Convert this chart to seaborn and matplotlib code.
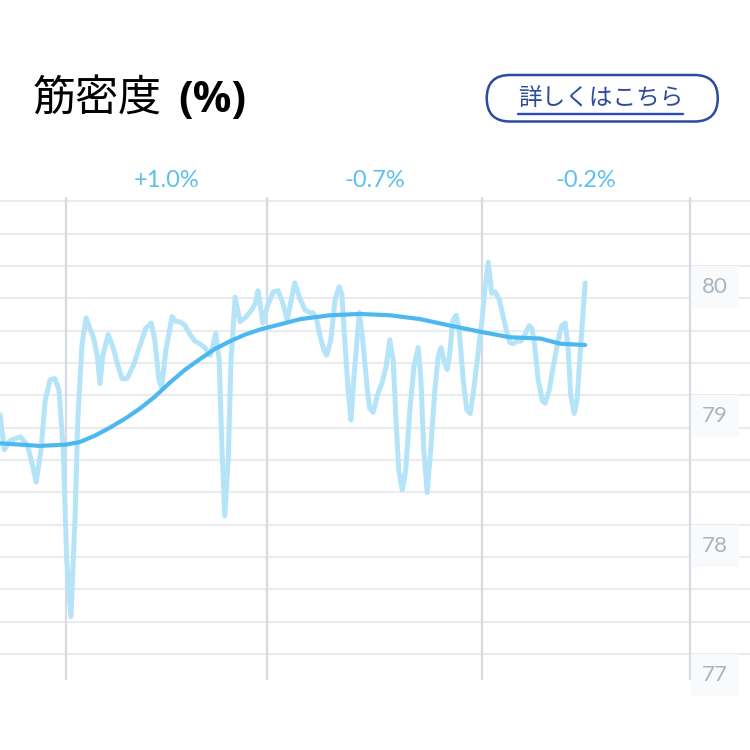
import matplotlib
matplotlib.use("Agg")
import matplotlib.pyplot as plt
from matplotlib.patches import FancyBboxPatch
from matplotlib.lines import Line2D
import matplotlib.transforms as mtransforms
import numpy as np
import pandas as pd
import seaborn as sns

# days counted from the first month boundary
daily_days = [-9.5, -8.9, -8.1, -6.6, -5.6, -5.0, -4.3, -3.6, -3.0, -2.3, -1.6, -1.0, -0.4,
              0.1, 0.7, 1.3, 1.7, 2.3, 2.9, 3.5, 4.0, 4.5, 4.9, 5.3, 6.1, 6.8, 7.5, 8.1, 8.8,
              9.7, 10.7, 11.5, 12.3, 12.8, 13.4, 13.8, 14.4, 15.3, 15.9, 16.4, 17.2, 17.9,
              18.6, 19.3, 20.0, 20.8, 21.2, 21.6, 22.1, 22.5, 22.9, 23.4, 23.8, 24.4, 25.1,
              25.8, 26.5, 27.3, 27.7, 28.4, 29.1, 29.9, 30.6, 31.3, 31.9, 32.5, 33.0, 33.8,
              34.5, 35.2, 35.6, 36.1, 36.6, 37.2, 37.6, 38.2, 38.8, 39.4, 39.8, 40.2, 40.7,
              41.1, 41.5, 42.3, 42.8, 43.4, 43.8, 44.3, 44.9, 45.6, 46.2, 46.7, 47.2, 47.6,
              48.0, 48.5, 49.0, 49.6, 50.2, 50.8, 51.2, 51.6, 52.1, 52.6, 53.2, 53.7, 54.1,
              54.5, 55.0, 55.4, 55.8, 56.3, 56.7, 57.3, 57.8, 58.3, 58.8, 59.4, 60.0, 60.4,
              60.9, 61.2, 61.4, 61.9, 62.5, 63.0, 63.6, 64.0, 64.5, 65.1, 65.6, 66.2, 66.8,
              67.2, 67.6, 68.1, 68.7, 69.1, 69.7, 70.2, 71.0, 71.5, 72.0, 72.4, 72.8, 73.3,
              73.7, 74.1, 74.6, 74.9]
daily_vals = [78.85, 78.58, 78.65, 78.68, 78.62, 78.50, 78.33, 78.58, 78.96, 79.12, 79.13, 79.04, 78.58,
              77.73, 77.29, 78.04, 78.81, 79.39, 79.60, 79.51, 79.44, 79.31, 79.09, 79.31, 79.47, 79.37, 79.23, 79.13, 79.13,
              79.23, 79.39, 79.52, 79.56, 79.43, 79.12, 79.06, 79.35, 79.61, 79.57, 79.57, 79.54, 79.47,
              79.42, 79.40, 79.37, 79.31, 79.39, 79.48, 79.27, 78.58, 78.07, 78.50, 79.27, 79.76, 79.57,
              79.60, 79.64, 79.71, 79.81, 79.56, 79.70, 79.80, 79.81, 79.71, 79.58, 79.74, 79.87, 79.74,
              79.66, 79.64, 79.64, 79.60, 79.47, 79.35, 79.31, 79.43, 79.74, 79.84, 79.78, 79.43, 79.04,
              78.81, 79.12, 79.64, 79.43, 79.08, 78.90, 78.87, 79.00, 79.10, 79.23, 79.43, 79.27, 78.81,
              78.42, 78.27, 78.42, 78.89, 79.23, 79.37, 79.12, 78.58, 78.25, 78.58, 79.04, 79.31, 79.37,
              79.27, 79.20, 79.35, 79.58, 79.62, 79.51, 79.12, 78.89, 78.86, 79.04, 79.31, 79.58, 79.81,
              80.03, 79.89, 79.79, 79.80, 79.74, 79.62, 79.49, 79.41, 79.40, 79.42, 79.42, 79.47, 79.54,
              79.52, 79.39, 79.12, 78.96, 78.94, 79.04, 79.20, 79.43, 79.54, 79.56, 79.39, 79.00, 78.86,
              78.96, 79.27, 79.66, 79.87]

trend_days = [-9.5, -6.6, -3.8, 0.0, 2.0, 4.2, 6.3, 8.5, 10.7, 12.8, 15.0, 17.2, 19.3, 21.5,
              23.7, 25.8, 28.0, 30.9, 33.8, 38.1, 42.4, 46.7, 51.1, 55.4, 60.0, 64.0, 68.4,
              71.3, 74.9]
trend_vals = [78.63, 78.62, 78.61, 78.62, 78.64, 78.69, 78.75, 78.82, 78.90, 78.99, 79.10, 79.20,
              79.28, 79.36, 79.42, 79.47, 79.51, 79.55, 79.59, 79.62, 79.63, 79.62, 79.59, 79.54,
              79.49, 79.45, 79.44, 79.40, 79.39]

month_starts = [0, 29, 60, 90]
month_changes = ["+1.0%", "-0.7%", "-0.2%"]
y_labels = [80, 79, 78, 77]

title_jp = "筋密度"
title_unit = "(%)"
link_text = "詳しくはこちら"

light_blue = "#b5e4f9"
mid_blue = "#4cb8f0"
label_blue = "#5cc0ef"

sns.set_style("white")
plt.rcParams["font.family"] = ["Noto Sans CJK JP", "DejaVu Sans"]

fig = plt.figure(figsize=(7.5, 7.5), dpi=100)
ax = fig.add_axes([0, 0.0933, 1, 0.644])

daily = pd.DataFrame({"day": daily_days, "value": daily_vals})
trend = pd.DataFrame({"day": trend_days, "value": trend_vals})

sns.lineplot(data=daily, x="day", y="value", ax=ax, color=light_blue, linewidth=3.6,
             sort=False, zorder=3, solid_joinstyle="round", solid_capstyle="round")
sns.lineplot(data=trend, x="day", y="value", ax=ax, color=mid_blue, linewidth=3.0,
             sort=False, zorder=4, solid_joinstyle="round", solid_capstyle="round")

ax.set_xlim(-9.52, 98.66)
ax.set_ylim(76.8, 80.534)

# horizontal grid every quarter point
for g in np.arange(77, 80.51, 0.25):
    ax.axhline(g, color="#e9ebef", linewidth=1.5, zorder=1)
for m in month_starts:
    ax.axvline(m, color="#d6dae2", linewidth=1.6, zorder=2)

for s in ax.spines.values():
    s.set_visible(False)
ax.set_xticks([])
ax.set_yticks([])
ax.set_xlabel("")
ax.set_ylabel("")

# value labels on the right, just under their grid line
trans_r = mtransforms.blended_transform_factory(ax.transAxes, ax.transData)
for v in y_labels:
    ax.annotate(str(v), xy=(0.953, v), xycoords=trans_r, xytext=(0, -15),
                textcoords="offset points", ha="center", va="center",
                fontsize=16, color="#a8b4be", family=["Lato", "DejaVu Sans"],
                bbox=dict(boxstyle="square,pad=0.5", facecolor="#f9fafb", edgecolor="none"),
                zorder=5)

# month change labels above the plot
trans_top = mtransforms.blended_transform_factory(ax.transData, fig.transFigure)
for i, txt in enumerate(month_changes):
    mid = (month_starts[i] + month_starts[i + 1]) / 2
    fig.text(mid, 0.759, txt, transform=trans_top, ha="center", va="center",
             fontsize=17, color=label_blue, family=["Lato", "DejaVu Sans"])

# title
fig.text(0.044, 0.867, title_jp, ha="left", va="center", fontsize=31, color="black")
fig.text(0.237, 0.866, title_unit, ha="left", va="center", fontsize=31, color="black",
         fontweight="bold", family=["Open Sans", "DejaVu Sans"])

# link button
btn = FancyBboxPatch((0.649, 0.838), 0.308, 0.062,
                     boxstyle="round,pad=0,rounding_size=0.031",
                     transform=fig.transFigure, facecolor="white",
                     edgecolor="#2c4aa3", linewidth=1.8)
fig.patches.append(btn)
fig.text(0.8015, 0.869, link_text, ha="center", va="center", fontsize=17, color="#2e4b9e")
fig.lines.append(Line2D([0.691, 0.911], [0.848, 0.848], transform=fig.transFigure,
                        color="#2a4cc0", linewidth=1.7))

fig.savefig("out.png", dpi=100)
